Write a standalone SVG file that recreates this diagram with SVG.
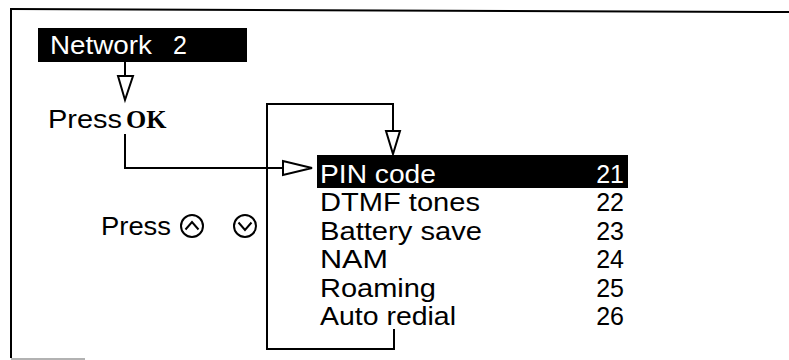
<svg xmlns="http://www.w3.org/2000/svg" width="789" height="360" viewBox="0 0 789 360">
<style>
.t{font-family:"Liberation Sans",Arial,sans-serif;font-size:25px;fill:#000}
.w{fill:#fff}
.ok{font-family:"Liberation Serif","Times New Roman",serif;font-weight:bold;font-size:26px;fill:#000}
.ln{fill:none;stroke:#000;stroke-width:2}
.tri{fill:#fff;stroke:#000;stroke-width:2;stroke-linejoin:miter}
</style>
<rect width="789" height="360" fill="#fff"/>
<g id="frame">
<line class="ln" x1="11" y1="9" x2="789" y2="12"/>
<line class="ln" x1="11" y1="8" x2="11" y2="358"/>
<line x1="11" y1="359" x2="85" y2="359" stroke="#999" stroke-width="1.5"/>
</g>
<g id="network">
<rect x="38" y="28" width="209" height="34" fill="#000"/>
<text class="t w" x="50" y="54" textLength="102" lengthAdjust="spacingAndGlyphs">Network</text>
<text class="t w" x="173" y="54">2</text>
</g>
<g id="pressok">
<text class="t" x="48" y="128" textLength="74" lengthAdjust="spacingAndGlyphs">Press</text>
<text class="ok" x="126" y="128">OK</text>
</g>
<g id="pressarrows">
<text class="t" x="101" y="235" textLength="70" lengthAdjust="spacingAndGlyphs">Press</text>
<circle class="ln" cx="192" cy="226" r="11"/>
<polyline class="ln" points="185.5,229.5 192,222 198.5,229.5"/>
<circle class="ln" cx="245" cy="226" r="11"/>
<polyline class="ln" points="238.5,222.5 245,230 251.5,222.5"/>
</g>
<g id="menu">
<rect x="317" y="155" width="311" height="33" fill="#000"/>
<text class="t w" x="320" y="183" textLength="116" lengthAdjust="spacingAndGlyphs">PIN code</text>
<text class="t w" x="624" y="183" text-anchor="end">21</text>
<text class="t" x="320" y="211" textLength="160" lengthAdjust="spacingAndGlyphs">DTMF tones</text>
<text class="t" x="624" y="211" text-anchor="end">22</text>
<text class="t" x="320" y="240" textLength="162" lengthAdjust="spacingAndGlyphs">Battery save</text>
<text class="t" x="624" y="240" text-anchor="end">23</text>
<text class="t" x="320" y="268" textLength="68" lengthAdjust="spacingAndGlyphs">NAM</text>
<text class="t" x="624" y="268" text-anchor="end">24</text>
<text class="t" x="320" y="297" textLength="116" lengthAdjust="spacingAndGlyphs">Roaming</text>
<text class="t" x="624" y="297" text-anchor="end">25</text>
<text class="t" x="320" y="325" textLength="136" lengthAdjust="spacingAndGlyphs">Auto redial</text>
<text class="t" x="624" y="325" text-anchor="end">26</text>
</g>
<g id="connectors">
<line class="ln" x1="125" y1="62" x2="125" y2="76"/>
<polygon class="tri" points="118,76 133,76 125,100"/>
<polyline class="ln" points="125,134 125,168 283,168"/>
<polygon class="tri" points="283,161 283,175 312,168"/>
<polyline class="ln" points="394,329 394,349 267,349 267,104 393,104 393,131"/>
<polygon class="tri" points="386,131 400,131 393,154"/>
</g>
</svg>
